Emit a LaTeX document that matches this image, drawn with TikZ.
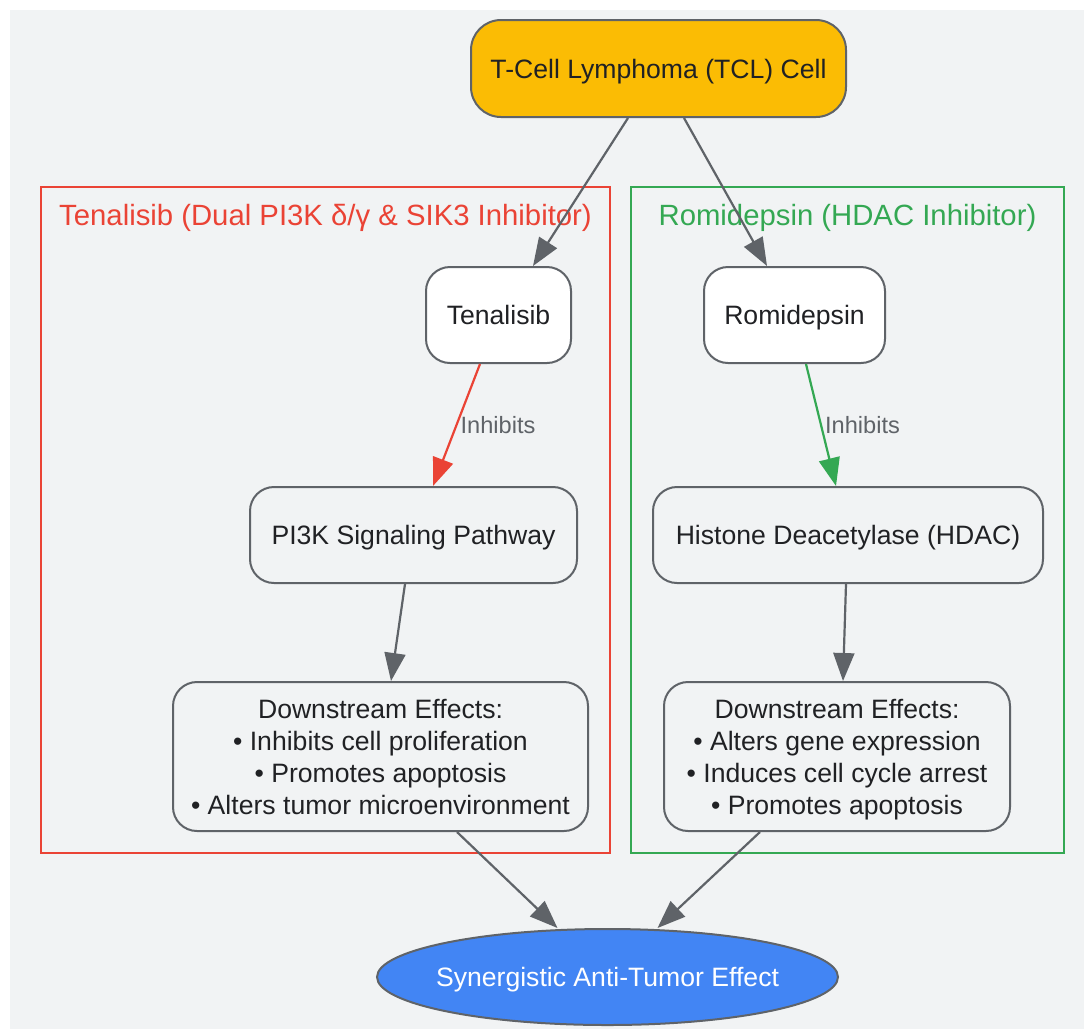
\documentclass[tikz,border=0pt]{standalone}
\usepackage{fontspec}
\setmainfont{Liberation Sans}
\usepackage[rgb]{xcolor}
\definecolor{bggray}{RGB}{241,243,244}
\definecolor{edgegray}{RGB}{95,99,104}
\definecolor{textgray}{RGB}{32,33,36}
\definecolor{cellyellow}{RGB}{251,188,4}
\definecolor{tenred}{RGB}{234,67,53}
\definecolor{romgreen}{RGB}{52,168,83}
\definecolor{effectblue}{RGB}{66,133,244}
\usetikzlibrary{arrows.meta,shapes.geometric}

\begin{document}
\begin{tikzpicture}[x=1pt,y=-1pt,
  box/.style={draw=edgegray,line width=2pt,rounded corners=24pt,fill=bggray,
    text=textgray,font=\fontsize{26.6}{32}\selectfont,align=center,inner sep=0pt,text depth=0pt},
  drugbox/.style={box,fill=white},
  cluster/.style={draw=#1,line width=2pt,inner sep=0pt},
  clustertitle/.style={text=#1,font=\fontsize{29.3}{34}\selectfont,inner sep=0pt},
  arr/.style={draw=edgegray,line width=2.2pt,-{Triangle[length=28pt,width=21pt]}},
  inhib/.style={arr,draw=#1,-{Triangle[length=28pt,width=21pt,fill=#1]}},
  edgelabel/.style={text=edgegray,font=\fontsize{23.6}{28}\selectfont,anchor=west,inner sep=3pt}
]
\useasboundingbox (0,0) rectangle (1084,1029);
\fill[bggray] (10,10) rectangle (1084,1029);

% the two drug clusters
\node[cluster=tenred,minimum width=569pt,minimum height=666pt] (tenbox) at (325.5,520) {};
\node[clustertitle=tenred] (tentitle) at ([yshift=-32pt]tenbox.north) {Tenalisib (Dual PI3K δ/γ \& SIK3 Inhibitor)};
\node[cluster=romgreen,minimum width=433pt,minimum height=666pt] (rombox) at (847.5,520) {};
\node[clustertitle=romgreen] (romtitle) at ([yshift=-32pt]rombox.north) {Romidepsin (HDAC Inhibitor)};

% the cell
\node[box,fill=cellyellow,rounded corners=30pt,minimum width=375pt,minimum height=97pt] (tcl) at (658.5,68.5) {T-Cell Lymphoma (TCL) Cell};

% the Tenalisib side
\node[drugbox,minimum width=145pt,minimum height=96pt] (ten) at (498.5,315) {Tenalisib};
\node[box,minimum width=327pt,minimum height=96pt] (pi3k) at (413.5,535) {PI3K Signaling Pathway};
\node[box,minimum width=415pt,minimum height=149pt] (downl) at (380.5,756.5)
  {Downstream Effects:\\• Inhibits cell proliferation\\• Promotes apoptosis\\• Alters tumor microenvironment};

% the Romidepsin side
\node[drugbox,minimum width=181pt,minimum height=96pt] (rom) at (794.5,315) {Romidepsin};
\node[box,minimum width=390pt,minimum height=96pt] (hdac) at (848,535) {Histone Deacetylase (HDAC)};
\node[box,minimum width=346pt,minimum height=149pt] (downr) at (837,756.5)
  {Downstream Effects:\\• Alters gene expression\\• Induces cell cycle arrest\\• Promotes apoptosis};

% the joint effect
\node[ellipse,draw=edgegray,line width=2pt,fill=effectblue,text=white,inner sep=0pt,text depth=0pt,
  minimum width=461pt,minimum height=96pt,font=\fontsize{26.6}{30}\selectfont] (syn) at (607.5,977)
  {\makebox[0pt]{Synergistic Anti-Tumor Effect}};

% the edges
\draw[arr] ([xshift=-30.5pt]tcl.south) -- ([xshift=34.5pt]ten.north);
\draw[arr] ([xshift=25.5pt]tcl.south) -- ([xshift=-27.5pt]rom.north);
\draw[inhib=tenred] ([xshift=-18.5pt]ten.south) -- node[edgelabel] (inhl) {Inhibits} ([xshift=19.5pt]pi3k.north);
\draw[inhib=romgreen] ([xshift=11.5pt]rom.south) -- node[edgelabel] (inhr) {Inhibits} ([xshift=-12pt]hdac.north);
\draw[arr] ([xshift=-8.5pt]pi3k.south) -- ([xshift=10.5pt]downl.north);
\draw[arr] ([xshift=-2pt]hdac.south) -- ([xshift=6pt]downr.north);
\draw[arr] ([xshift=76.5pt]downl.south) -- ([xshift=-50pt]syn.north);
\draw[arr] ([xshift=-77pt]downr.south) -- ([xshift=50pt]syn.north);

\end{tikzpicture}
\end{document}
